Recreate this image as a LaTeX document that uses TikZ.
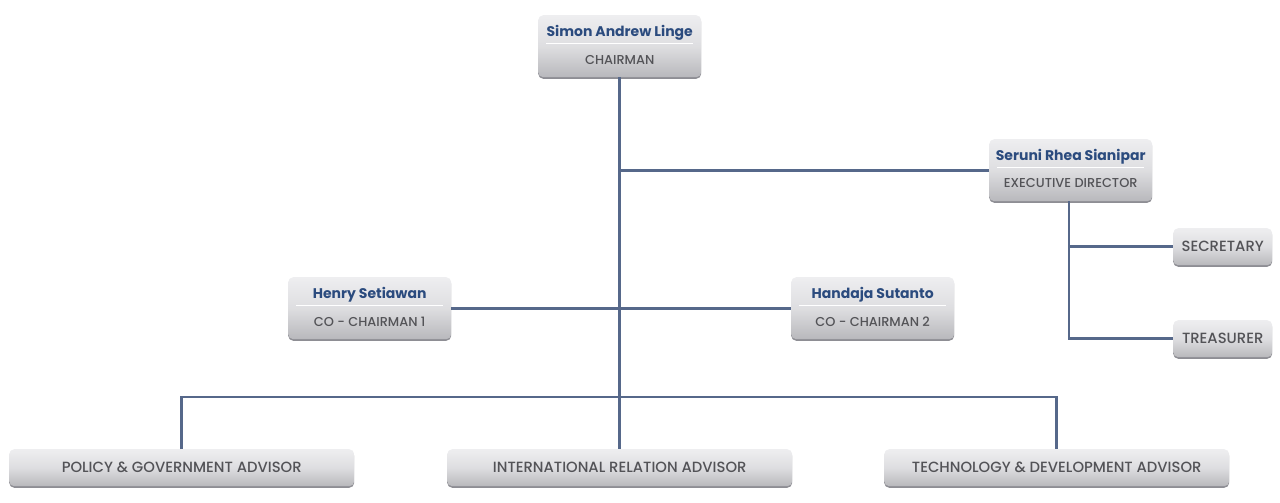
\documentclass[tikz,border=0pt]{standalone}
\usepackage{fontspec}
\setmainfont{Poppins}[UprightFont=* Medium, BoldFont=* Bold]
\usetikzlibrary{positioning,calc}
\definecolor{linec}{HTML}{56688A}
\definecolor{namec}{HTML}{2B4B7E}
\definecolor{titlec}{HTML}{535357}
\definecolor{boxtop}{HTML}{EEEEF0}
\definecolor{boxbot}{HTML}{B8B8BC}
\definecolor{shadowc}{HTML}{8E8E94}
\tikzset{
  box/.style={rounded corners=5pt, top color=boxtop, bottom color=boxbot, middle color=boxtop!70!boxbot, inner sep=0pt, anchor=north west,
    preaction={fill=shadowc, transform canvas={yshift=-1.6pt}}},
  bigbox/.style={box, minimum width=163pt, minimum height=62pt},
  smallbox/.style={box, minimum width=99pt, minimum height=37pt},
  widebox/.style={box, minimum width=345pt, minimum height=37pt},
  nametext/.style={text=namec, font=\fontsize{14}{16}\selectfont\bfseries, inner sep=0pt},
  titletext/.style={text=titlec, font=\fontsize{12.9}{14}\selectfont, inner sep=0pt},
  lowtext/.style={text=titlec, font=\fontsize{14.8}{16}\selectfont, inner sep=0pt},
  conn/.style={draw=linec, line width=2.6pt},
  sep/.style={draw=white, line width=0.8pt}
}
\begin{document}
\begin{tikzpicture}[x=1pt,y=-1pt]
\useasboundingbox (0,0) rectangle (1280,503);
% boxes
\node[bigbox] (ch) at (538,15) {};
\node[nametext] (chn) at ($(ch.north)+(0,18)$) {Simon Andrew Linge};
\node[titletext] (cht) at ($(ch.north)+(0,44.5)$) {CHAIRMAN};
\draw[sep] ($(ch.north west)+(8,28)$) -- ($(ch.north east)+(-8,28)$);

\node[bigbox] (ed) at (989,139) {};
\node[nametext] (edn) at ($(ed.north)+(0,18)$) {Seruni Rhea Sianipar};
\node[titletext] (edt) at ($(ed.north)+(0,44.5)$) {EXECUTIVE DIRECTOR};
\draw[sep] ($(ed.north west)+(8,28)$) -- ($(ed.north east)+(-8,28)$);

\node[bigbox] (c1) at (288,277) {};
\node[nametext] (c1n) at ($(c1.north)+(0,18)$) {Henry Setiawan};
\node[titletext] (c1t) at ($(c1.north)+(0,44.5)$) {CO - CHAIRMAN 1};
\draw[sep] ($(c1.north west)+(8,28)$) -- ($(c1.north east)+(-8,28)$);

\node[bigbox] (c2) at (791,277) {};
\node[nametext] (c2n) at ($(c2.north)+(0,18)$) {Handaja Sutanto};
\node[titletext] (c2t) at ($(c2.north)+(0,44.5)$) {CO - CHAIRMAN 2};
\draw[sep] ($(c2.north west)+(8,28)$) -- ($(c2.north east)+(-8,28)$);

\node[smallbox] (sec) at (1173,228) {};
\node[lowtext] (sect) at (sec.center) {SECRETARY};
\node[smallbox] (tre) at (1173,320) {};
\node[lowtext] (tret) at (tre.center) {TREASURER};

\node[widebox] (pol) at (9,449) {};
\node[lowtext] (polt) at (pol.center) {POLICY \& GOVERNMENT ADVISOR};
\node[widebox] (int) at (447,449) {};
\node[lowtext] (intt) at (int.center) {INTERNATIONAL RELATION ADVISOR};
\node[widebox] (tec) at (884,449) {};
\node[lowtext] (tect) at (tec.center) {TECHNOLOGY \& DEVELOPMENT ADVISOR};

% connectors
\coordinate (j1) at (ch.south |- ed.west);
\coordinate (j3) at (620,397);
\draw[conn] (ch.south) -- (int.north);
\draw[conn] (j1) -- (ed.west);
\draw[conn] (c1.east) -- (c2.west);
\draw[conn] (pol.north) |- (j3) -| (tec.north);
\coordinate (e0) at (1069,0);
\draw[conn] (e0 |- ed.south) |- (tre.west);
\draw[conn] (e0 |- sec.west) -- (sec.west);
\end{tikzpicture}
\end{document}
